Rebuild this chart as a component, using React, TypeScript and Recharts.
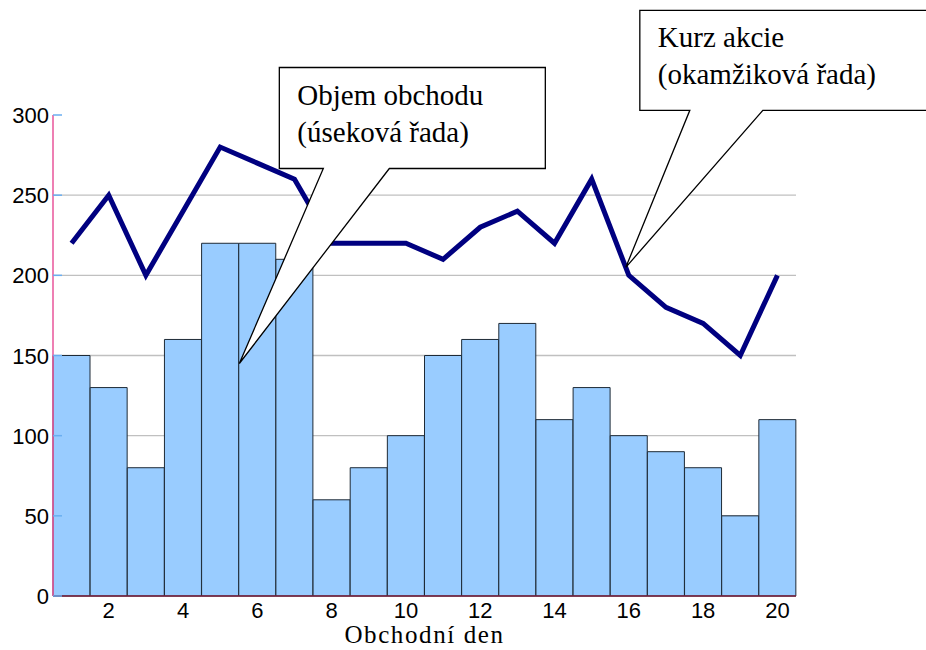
import {
  ComposedChart,
  Bar,
  Line,
  XAxis,
  YAxis,
  CartesianGrid,
  ReferenceDot,
} from 'recharts';

// trading days, volume (bars) and share price (line)
const days = [1, 2, 3, 4, 5, 6, 7, 8, 9, 10, 11, 12, 13, 14, 15, 16, 17, 18, 19, 20];
const volume = [150, 130, 80, 160, 220, 220, 210, 60, 80, 100, 150, 160, 170, 110, 130, 100, 90, 80, 50, 110];
const price = [220, 250, 200, 240, 280, 270, 260, 220, 220, 220, 210, 230, 240, 220, 260, 200, 180, 170, 150, 200];
const yTicks = [0, 50, 100, 150, 200, 250, 300];
const gridValues = [50, 100, 150, 200, 250];

const volumeNote = ['Objem obchodu', '(úseková řada)'];
const priceNote = ['Kurz akcie', '(okamžiková řada)'];

const data = days.map((d, i) => ({ day: d, volume: volume[i], price: price[i] }));

const SANS = "'Liberation Sans', Arial, sans-serif";
const SERIF = "'Liberation Serif', 'Times New Roman', serif";

interface BalloonOpts {
  dx: number;
  left: number;
  top: number;
  right: number;
  bottom: number;
  base1: number;
  base2: number;
  lines: string[];
}

// speech balloon whose tip sits on the reference point
function balloon(o: BalloonOpts) {
  return (props: any) => {
    const tx = props.cx + o.dx;
    const ty = props.cy;
    const L = tx + o.left;
    const R = tx + o.right;
    const T = ty + o.top;
    const B = ty + o.bottom;
    const d = `M${tx},${ty} L${tx + o.base1},${B} L${L},${B} L${L},${T} L${R},${T} L${R},${B} L${tx + o.base2},${B} Z`;
    return (
      <g>
        <path d={d} fill="#fff" stroke="#000" strokeWidth={1.3} strokeLinejoin="miter" />
        {o.lines.map((t, i) => (
          <text key={t} x={L + 18} y={T + 37 + i * 37} fontFamily={SERIF} fontSize={29} fill="#000">
            {t}
          </text>
        ))}
      </g>
    );
  };
}

function YTick(props: any) {
  const { x, y, payload } = props;
  return (
    <g>
      <line x1={x + 4} y1={y} x2={x + 13} y2={y} stroke="#6aaef0" strokeWidth={1.5} />
      <text x={x} y={y} dy={8} textAnchor="end" fontFamily={SANS} fontSize={22} fill="#000">
        {payload.value}
      </text>
    </g>
  );
}

function XLabel(props: any) {
  const { viewBox } = props;
  const cx = viewBox.x + viewBox.width / 2;
  return (
    <text x={cx} y={643} textAnchor="middle" fontFamily={SERIF} fontSize={25} letterSpacing={1.6} fill="#000">
      Obchodní den
    </text>
  );
}

export default function App() {
  return (
    <div style={{ position: 'absolute', left: 0, top: 0, background: '#fff' }}>
      <ComposedChart
        width={926}
        height={650}
        data={data}
        margin={{ top: 115, right: 130, left: 0, bottom: 0 }}
        barCategoryGap={0}
        barGap={0}
      >
        <CartesianGrid horizontalValues={gridValues} vertical={false} stroke="#c0c0c0" strokeWidth={1.3} />
        <XAxis
          dataKey="day"
          height={54}
          interval={0}
          tickLine={false}
          axisLine={{ stroke: '#7a1f3d', strokeWidth: 1.5 }}
          tickMargin={0}
          tickFormatter={(v: number) => (v % 2 === 0 ? String(v) : '')}
          tick={{ fontFamily: SANS, fontSize: 22, fill: '#000' }}
          label={<XLabel />}
        />
        <YAxis
          width={53}
          domain={[0, 300]}
          ticks={yTicks}
          tickSize={0}
          tickMargin={4}
          tickLine={false}
          axisLine={{ stroke: '#e8559a', strokeWidth: 1.5 }}
          tick={<YTick />}
        />
        <Bar dataKey="volume" fill="#99ccff" stroke="#1e2a36" strokeWidth={1} isAnimationActive={false} />
        <Line
          dataKey="price"
          type="linear"
          stroke="#000080"
          strokeWidth={5}
          strokeLinejoin="miter"
          dot={false}
          activeDot={false}
          isAnimationActive={false}
        />
        <ReferenceDot
          x={6}
          y={145}
          ifOverflow="visible"
          shape={balloon({
            dx: -18,
            left: 40,
            top: -296,
            right: 306,
            bottom: -195,
            base1: 84,
            base2: 150,
            lines: volumeNote,
          })}
        />
        <ReferenceDot
          x={16}
          y={205}
          ifOverflow="visible"
          shape={balloon({
            dx: -3,
            left: 14,
            top: -257,
            right: 330,
            bottom: -157,
            base1: 64,
            base2: 137,
            lines: priceNote,
          })}
        />
      </ComposedChart>
    </div>
  );
}
